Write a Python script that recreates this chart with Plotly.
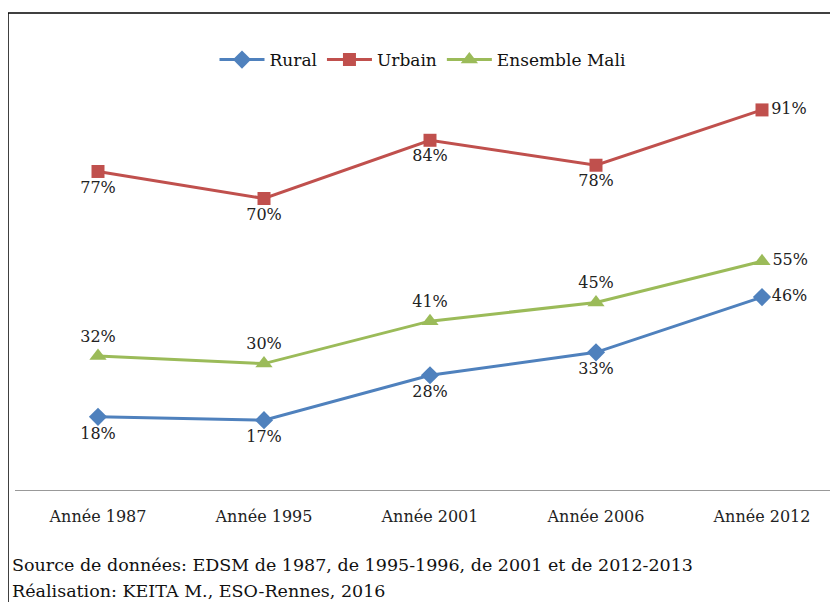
import plotly.graph_objects as go

categories = ["Année 1987", "Année 1995", "Année 2001", "Année 2006", "Année 2012"]
rural = [17.6, 16.8, 27.6, 33.1, 46.4]
urbain = [76.6, 70.1, 84.1, 78.1, 91.4]
ensemble = [32.2, 30.4, 40.6, 45.1, 55.0]
series_names = ["Rural", "Urbain", "Ensemble Mali"]
footer_lines = [
    "Source de données: EDSM de 1987, de 1995-1996, de 2001 et de 2012-2013",
    "Réalisation: KEITA M., ESO-Rennes, 2016",
]

# page body has an 8px margin, so the figure is drawn at (8, 8)
OFF = 8
W, H = 838 - OFF, 602 - OFF
L, R, T, B = 15 - OFF, 0, 70 - OFF, 602 - 490
pw, ph = W - L - R, H - T - B

def px_x(p):  # reference screen pixel -> paper coord
    return (p - OFF - L) / pw

def px_y(p):
    return (H - B - (p - OFF)) / ph

FONT = "DejaVu Serif"
xs = list(range(len(categories)))
CAT_W = 166
X0 = 98  # reference screen x of first category

def labels(vals):
    return [f"{round(v):d}%" for v in vals]

fig = go.Figure()
fig.add_trace(go.Scatter(
    x=xs, y=rural, name=series_names[0], mode="lines+markers+text",
    line=dict(color="#4F81BD", width=3),
    marker=dict(symbol="diamond", size=14, color="#4F81BD"),
    text=labels(rural),
    textposition=["bottom center"] * 4 + ["middle right"],
    textfont=dict(family=FONT, size=16, color="#222"),
))
fig.add_trace(go.Scatter(
    x=xs, y=urbain, name=series_names[1], mode="lines+markers+text",
    line=dict(color="#C0504D", width=3),
    marker=dict(symbol="square", size=13, color="#C0504D"),
    text=labels(urbain),
    textposition=["bottom center"] * 4 + ["middle right"],
    textfont=dict(family=FONT, size=16, color="#222"),
))
fig.add_trace(go.Scatter(
    x=xs, y=ensemble, name=series_names[2], mode="lines+markers+text",
    line=dict(color="#9BBB59", width=3),
    marker=dict(symbol="triangle-up", size=15, color="#9BBB59"),
    text=labels(ensemble),
    textposition=["top center"] * 4 + ["middle right"],
    textfont=dict(family=FONT, size=16, color="#222"),
))

shapes = [
    dict(type="line", xref="paper", yref="paper", x0=px_x(8), x1=px_x(850), y0=px_y(13), y1=px_y(13),
         line=dict(color="black", width=1.5)),
    dict(type="line", xref="paper", yref="paper", x0=px_x(8), x1=px_x(8), y0=px_y(13), y1=px_y(620),
         line=dict(color="black", width=1.5)),
]

annotations = [
    dict(text=footer_lines[0], xref="paper", yref="paper", x=px_x(10), y=px_y(565),
         xanchor="left", yanchor="middle", showarrow=False,
         font=dict(family=FONT, size=17.5, color="#111")),
    dict(text=footer_lines[1], xref="paper", yref="paper", x=px_x(10), y=px_y(591),
         xanchor="left", yanchor="middle", showarrow=False,
         font=dict(family=FONT, size=17.5, color="#111")),
]

fig.update_layout(
    width=W, height=H,
    margin=dict(l=L, r=R, t=T, b=B, pad=0),
    paper_bgcolor="white", plot_bgcolor="white",
    font=dict(family=FONT, color="#222"),
    showlegend=True,
    legend=dict(orientation="h", x=px_x(423), xanchor="center", y=px_y(60), yanchor="middle",
                font=dict(family=FONT, size=17, color="#111"), itemwidth=45,
                bgcolor="rgba(0,0,0,0)", traceorder="normal"),
    xaxis=dict(range=[-(X0 - 15) / CAT_W, (838 - X0) / CAT_W], tickvals=xs, ticktext=categories,
               showgrid=False, zeroline=False, showline=True, linecolor="#999", linewidth=1.2,
               ticks="", tickfont=dict(family=FONT, size=16, color="#222"), ticklabelstandoff=12),
    yaxis=dict(range=[0, 101], showgrid=False, zeroline=False, showticklabels=False, showline=False),
    shapes=shapes,
    annotations=annotations,
)

fig.write_html("out.html")
